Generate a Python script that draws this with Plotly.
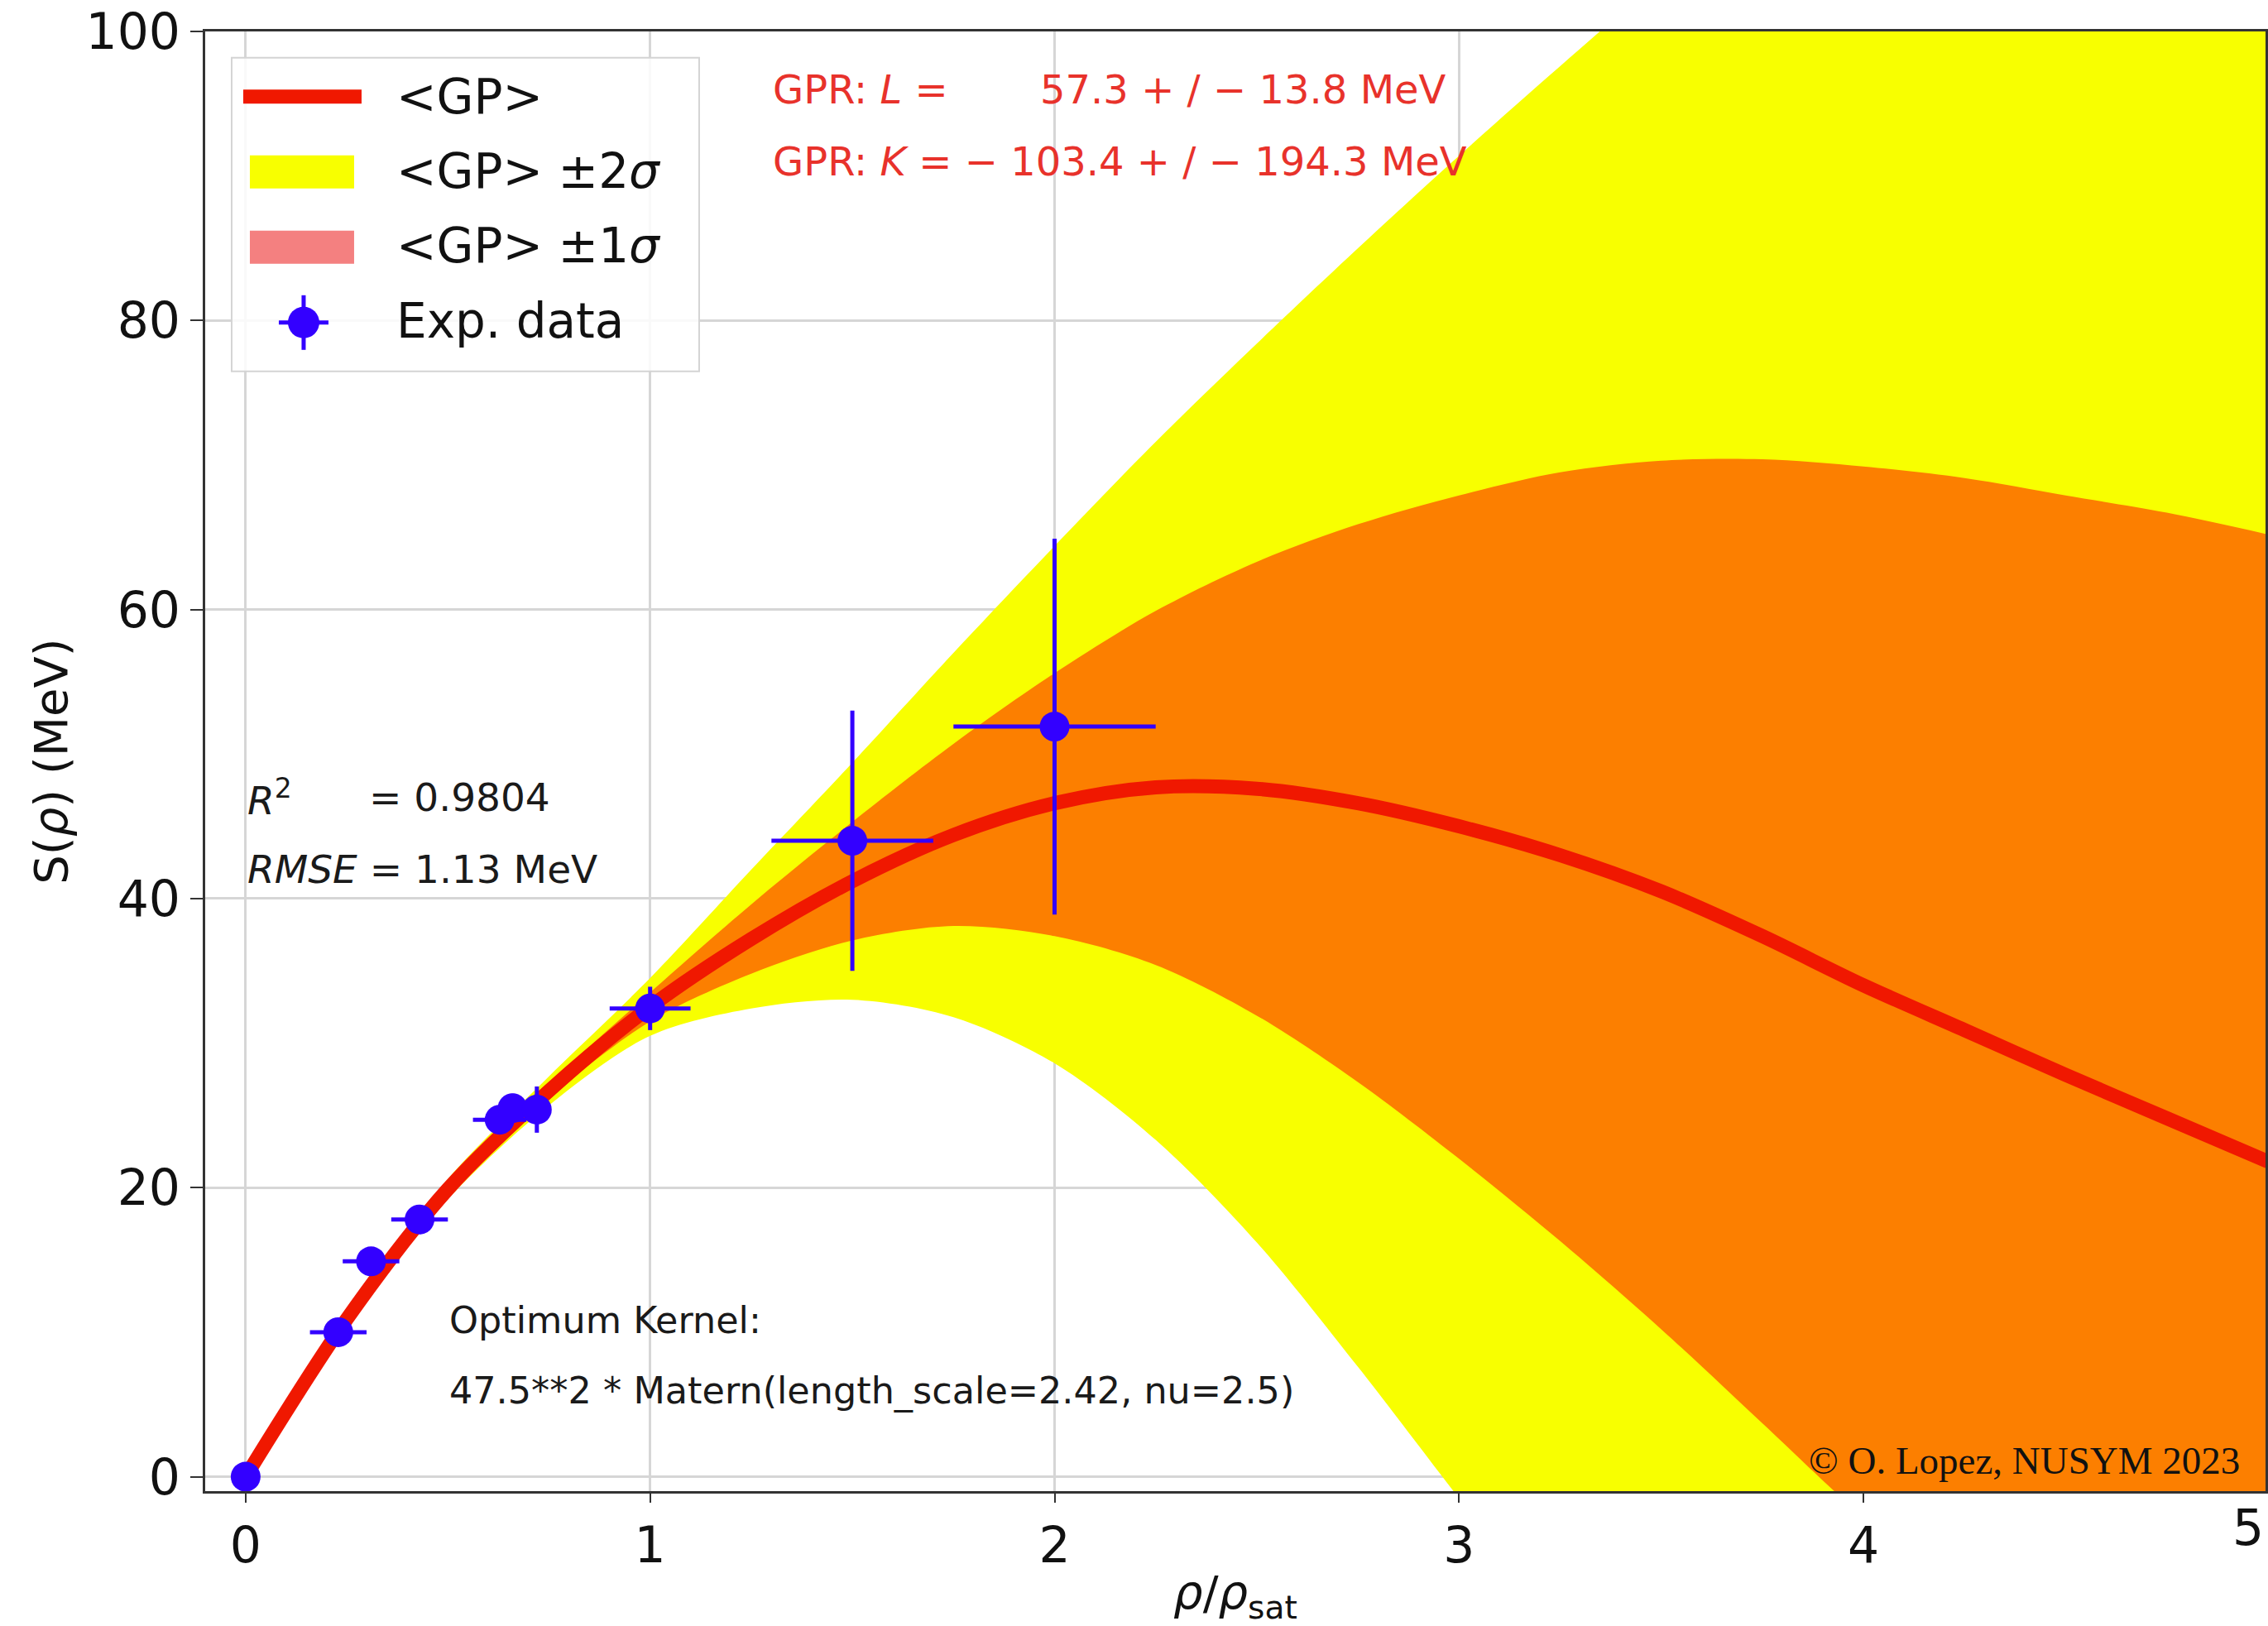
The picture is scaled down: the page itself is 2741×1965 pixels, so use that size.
import plotly.graph_objects as go

# ---- data ----
rho = [0, 0.25, 0.5, 0.75, 1.0, 1.25, 1.5, 1.75, 2.0, 2.25, 2.5, 2.75, 3.0,
       3.25, 3.5, 3.75, 4.0, 4.25, 4.5, 4.75, 5.0]
gp_mean = [0, 10.9, 19.9, 26.7, 32.5, 37.2, 41.2, 44.4, 46.6, 47.7, 47.6, 46.6,
           45.0, 43.0, 40.5, 37.4, 34.0, 30.9, 27.8, 24.8, 21.8]
gp_up1 = [0, 11.1, 20.25, 27.2, 33.5, 39.6, 45.3, 50.7, 55.6, 59.9, 63.3, 65.9,
          67.9, 69.5, 70.3, 70.4, 69.9, 69.1, 67.9, 66.7, 65.2]
gp_lo1 = [0, 10.7, 19.55, 26.2, 31.5, 34.8, 37.1, 38.1, 37.4, 35.4, 31.9, 27.3,
          22.0, 16.3, 10.2, 3.7, -2.8, -8.2, -13.0, -17.6, -21.8]
gp_up2 = [0, 11.3, 20.6, 27.7, 34.5, 42.0, 49.4, 57.0, 64.4, 71.6, 78.4, 85.0,
          91.4, 97.6, 103.5, 108.0, 110.5, 112.0, 112.0, 111.0, 110.0]
gp_lo2 = [0, 10.5, 19.2, 25.7, 30.5, 32.4, 33.0, 31.8, 28.6, 23.3, 16.2, 7.6,
          -1.5, -10.5, -19.5, -29.0, -38.5, -46.0, -53.0, -59.5, -65.5]

exp_x = [0.0, 0.229, 0.31, 0.43, 0.628, 0.66, 0.72, 1.0, 1.5, 2.0]
exp_y = [0.0, 10.0, 14.9, 17.8, 24.7, 25.5, 25.4, 32.4, 44.0, 51.9]
exp_xerr = [0.0, 0.07, 0.07, 0.07, 0.066, 0.03, 0.02, 0.1, 0.2, 0.25]
exp_yerr = [0.0, 0.5, 0.5, 0.5, 0.8, 1.0, 1.6, 1.5, 9.0, 13.0]

x_ticks = [0, 1, 2, 3, 4, 5]
y_ticks = [0, 20, 40, 60, 80, 100]

legend_labels = ["&lt;GP&gt;", "&lt;GP&gt; ±2<i>σ</i>", "&lt;GP&gt; ±1<i>σ</i>", "Exp. data"]

FONT = "DejaVu Sans"
RED_TXT = "#e8322b"
BLUE = "#3300ff"
YELLOW = "#f8ff00"
RED_A = "rgba(255,0,0,0.5)"
RED_LINE = "#f01800"

fig = go.Figure()
spl = dict(shape="spline", smoothing=0.9)

# +-2 sigma band
fig.add_trace(go.Scatter(x=rho, y=gp_lo2, mode="lines", line=dict(width=0, **spl),
                         showlegend=False, hoverinfo="skip"))
fig.add_trace(go.Scatter(x=rho, y=gp_up2, mode="lines", line=dict(width=0, **spl),
                         fill="tonexty", fillcolor=YELLOW, name=legend_labels[1],
                         showlegend=False, hoverinfo="skip"))
# +-1 sigma band
fig.add_trace(go.Scatter(x=rho, y=gp_lo1, mode="lines", line=dict(width=0, **spl),
                         showlegend=False, hoverinfo="skip"))
fig.add_trace(go.Scatter(x=rho, y=gp_up1, mode="lines", line=dict(width=0, **spl),
                         fill="tonexty", fillcolor=RED_A, name=legend_labels[2],
                         showlegend=False, hoverinfo="skip"))
# GP mean
fig.add_trace(go.Scatter(x=rho, y=gp_mean, mode="lines",
                         line=dict(color=RED_LINE, width=17, **spl),
                         name=legend_labels[0], showlegend=False))
# experimental data
fig.add_trace(go.Scatter(
    x=exp_x, y=exp_y, mode="markers",
    marker=dict(color=BLUE, size=36),
    error_x=dict(type="data", array=exp_xerr, color=BLUE, thickness=5, width=0),
    error_y=dict(type="data", array=exp_yerr, color=BLUE, thickness=5, width=0),
    name=legend_labels[3], showlegend=False))

# ---- annotations ----
ann = []
def txt(x, y, s, size, color="#1a1a1a", xanchor="left", family=FONT):
    ann.append(dict(x=x, y=y, xref="x", yref="y", text=s, showarrow=False,
                    xanchor=xanchor, yanchor="middle",
                    font=dict(family=family, size=size, color=color)))

txt(1.30, 96.0, "GPR: <i>L</i> =", 48, RED_TXT)
txt(1.96, 96.0, "57.3 + / − 13.8 MeV", 48, RED_TXT)
txt(1.30, 91.0, "GPR: <i>K</i> = − 103.4 + / − 194.3 MeV", 48, RED_TXT)
txt(0.0, 47.0, "<i>R</i><sup>2</sup>", 47)
txt(0.30, 47.0, "= 0.9804", 47)
txt(0.0, 42.0, "<i>RMSE</i> = 1.13 MeV", 47)
txt(0.5, 10.8, "Optimum Kernel:", 44.5)
txt(0.5, 5.9, "47.5**2 * Matern(length_scale=2.42, nu=2.5)", 44.5)
txt(4.935, 1.1, "© O. Lopez, NUSYM 2023", 47, "#111111", "right", "Liberation Serif")

# ---- legend drawn as a box anchored at the upper-left of the plot ----
L, T, R, B, W = 248, 38, 2741, 1813, 1965
AX = (280 - L) / (R - L)
AY = (B - 70) / (B - T)
shapes = []
def lshape(kind, x0, y0, x1, y1, **kw):
    shapes.append(dict(type=kind, xref="paper", yref="paper",
                       xsizemode="pixel", ysizemode="pixel",
                       xanchor=AX, yanchor=AY,
                       x0=x0, x1=x1, y0=y0, y1=y1, layer="above", **kw))

lshape("rect", 0, 0, 565, -379, fillcolor="rgba(255,255,255,0.85)",
       line=dict(color="#d4d4d4", width=2))
lshape("line", 14, -47, 157, -47, line=dict(color=RED_LINE, width=17))
lshape("rect", 22, -118, 148, -158, fillcolor=YELLOW, line=dict(width=0))
lshape("rect", 22, -209, 148, -249, fillcolor="#f48080", line=dict(width=0))
lshape("line", 57, -320, 117, -320, line=dict(color=BLUE, width=5))
lshape("line", 87, -287, 87, -353, line=dict(color=BLUE, width=5))
lshape("circle", 68, -301, 106, -339, fillcolor=BLUE, line=dict(width=0))

row_y = [117, 208, 299, 390]
for lab, py in zip(legend_labels, row_y):
    ann.append(dict(x=(477 - L) / (R - L), y=(B - py) / (B - T),
                    xref="paper", yref="paper", text=lab, showarrow=False,
                    xanchor="left", yanchor="middle",
                    font=dict(family=FONT, size=58, color="#111111")))

# the "5" tick label sits at the right edge of the picture
ann.append(dict(x=1.0, y=(B - 1857) / (B - T), xref="paper", yref="paper",
                text="5", showarrow=False, xanchor="right", yanchor="middle",
                font=dict(family=FONT, size=60, color="#111111")))

axis_common = dict(
    showgrid=True, gridcolor="#d6d6d6", gridwidth=3,
    showline=True, mirror=True, linecolor="#333333", linewidth=3,
    tickwidth=2, tickcolor="#333333",
    tickfont=dict(family=FONT, size=60, color="#111111"),
    zeroline=False, ticks="outside",
)

fig.update_layout(
    width=2741, height=W,
    margin=dict(l=L, r=0, t=T, b=W - B),
    paper_bgcolor="white", plot_bgcolor="white",
    font=dict(family=FONT, color="#111111"),
    annotations=ann, shapes=shapes,
    showlegend=False,
    xaxis=dict(range=[-0.1, 4.994], tickvals=x_ticks, ticklen=11,
               title=dict(text="<i>ρ</i>/<i>ρ</i><sub>sat</sub>",
                          font=dict(family=FONT, size=56), standoff=24),
               **axis_common),
    yaxis=dict(range=[-1, 100], tickvals=y_ticks, ticklen=15,
               title=dict(text="S(<i>ρ</i>) (MeV)",
                          font=dict(family=FONT, size=56), standoff=4),
               **axis_common),
)

fig.write_html("out.html")
